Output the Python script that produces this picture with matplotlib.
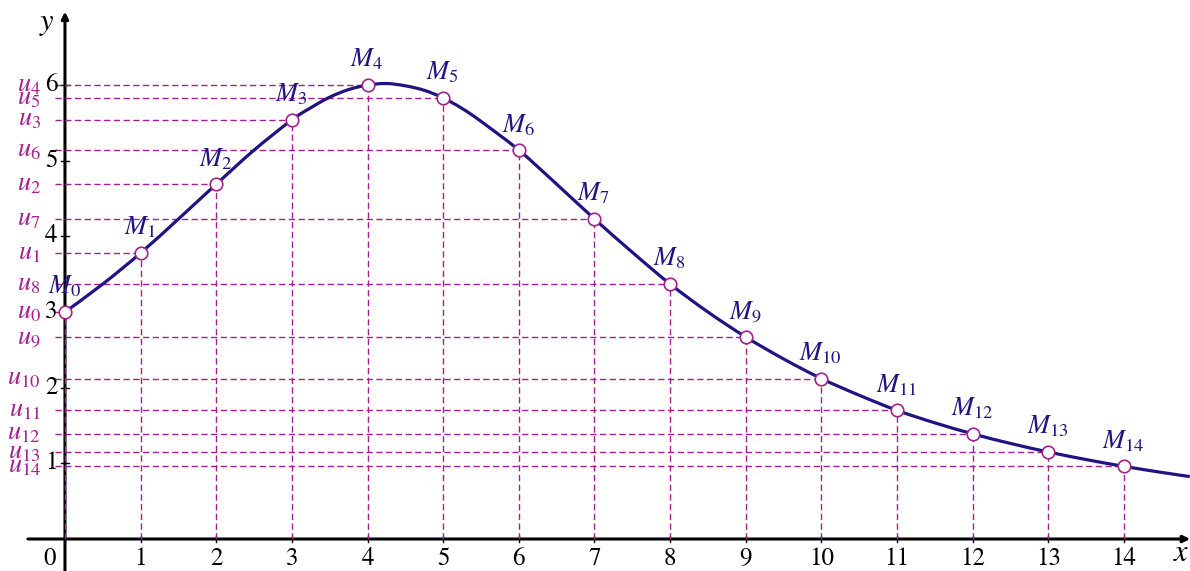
import matplotlib
matplotlib.use("Agg")
import matplotlib.pyplot as plt
from matplotlib.path import Path
from matplotlib.patches import PathPatch

# valeurs de la suite u_n = f(n), points M_n(n, u_n)
n_vals = list(range(15))
u_vals = [3.00, 3.78, 4.69, 5.54, 6.00, 5.83, 5.14, 4.23, 3.37, 2.67,
          2.12, 1.70, 1.39, 1.15, 0.96]

# courbe de f
curve_x = [0, 0.5, 1, 1.5, 2, 2.5, 3, 3.25, 3.5, 3.75, 4, 4.25, 4.5, 4.75,
           5, 5.25, 5.5, 6, 6.5, 7, 7.5, 8, 8.5, 9, 9.5, 10, 10.5, 11,
           11.5, 12, 12.5, 13, 13.5, 14, 14.5, 14.87]
curve_y = [3.00, 3.37, 3.78, 4.23, 4.69, 5.14, 5.54, 5.70, 5.84, 5.94, 6.00,
           6.02, 5.99, 5.93, 5.83, 5.69, 5.52, 5.14, 4.69, 4.23, 3.79, 3.37,
           3.00, 2.67, 2.38, 2.12, 1.90, 1.70, 1.535, 1.39, 1.263, 1.15,
           1.05, 0.96, 0.88, 0.825]

x_ticks = list(range(1, 15))
y_ticks = [1, 2, 3, 4, 5, 6]

plt.rcParams['mathtext.fontset'] = 'stix'
plt.rcParams['font.family'] = 'STIXGeneral'

navy = '#1e1482'
magenta = '#a3208e'


def smooth_path(xs, ys):
    # tracé lisse (Catmull-Rom -> Bézier cubique) passant par les points relevés
    pts = list(zip(xs, ys))
    verts = [pts[0]]
    codes = [Path.MOVETO]
    for i in range(len(pts) - 1):
        p0 = pts[i - 1] if i > 0 else pts[i]
        p1, p2 = pts[i], pts[i + 1]
        p3 = pts[i + 2] if i + 2 < len(pts) else pts[i + 1]
        c1 = (p1[0] + (p2[0] - p0[0]) / 6, p1[1] + (p2[1] - p0[1]) / 6)
        c2 = (p2[0] - (p3[0] - p1[0]) / 6, p2[1] - (p3[1] - p1[1]) / 6)
        verts += [c1, c2, p2]
        codes += [Path.CURVE4] * 3
    return Path(verts, codes)


fig = plt.figure(figsize=(11.9, 5.71), dpi=100)
ax = fig.add_axes([0, 0, 1, 1])
ax.set_xlim(-0.859, 14.873)
ax.set_ylim(-0.423, 7.124)
ax.axis('off')

# axes avec flèches
ax.annotate('', xy=(14.875, 0), xytext=(-0.49, 0),
            arrowprops=dict(arrowstyle='-|>', lw=2.2, color='black',
                            mutation_scale=10, shrinkA=0, shrinkB=0), zorder=1)
ax.annotate('', xy=(0, 6.97), xytext=(0, -0.43),
            arrowprops=dict(arrowstyle='-|>', lw=2.2, color='black',
                            mutation_scale=10, shrinkA=0, shrinkB=0), zorder=1)

# graduations
for t in x_ticks:
    ax.plot([t, t], [-0.04, 0.04], color='black', lw=1, zorder=1)
    ax.text(t, -0.1, str(t), ha='center', va='top', fontsize=18)
for t in y_ticks:
    ax.plot([-0.05, 0.05], [t, t], color='black', lw=1, zorder=1)
    ax.text(-0.1, t, str(t), ha='right', va='center', fontsize=18)
ax.text(-0.2, -0.1, '0', ha='center', va='top', fontsize=18)
ax.text(-0.24, 6.8, '$y$', ha='center', va='center', fontsize=22)
ax.text(14.76, -0.2, '$x$', ha='center', va='center', fontsize=22)

# pointillés
for n, u in zip(n_vals, u_vals):
    ax.plot([-0.13, n], [u, u], color=magenta, lw=1, dashes=(4.5, 2.5), zorder=2)
    ax.plot([n, n], [0, u], color=magenta, lw=1, dashes=(4.5, 2.5), zorder=2)
    ax.text(-0.32, u, '$u_{%d}$' % n, ha='right', va='center',
            fontsize=19, color=magenta)

# courbe
ax.add_patch(PathPatch(smooth_path(curve_x, curve_y), fill=False,
                       edgecolor=navy, lw=2.3, zorder=3, capstyle='butt'))

# points M_n
ax.plot(n_vals, u_vals, 'o', ms=9, mfc='white', mec=magenta, mew=1.2, zorder=4)
for n, u in zip(n_vals, u_vals):
    ax.text(n - 0.01, u + 0.33, '$M_{%d}$' % n, ha='center', va='center',
            fontsize=19, color=navy, zorder=5)

fig.savefig('out.png', dpi=100)
